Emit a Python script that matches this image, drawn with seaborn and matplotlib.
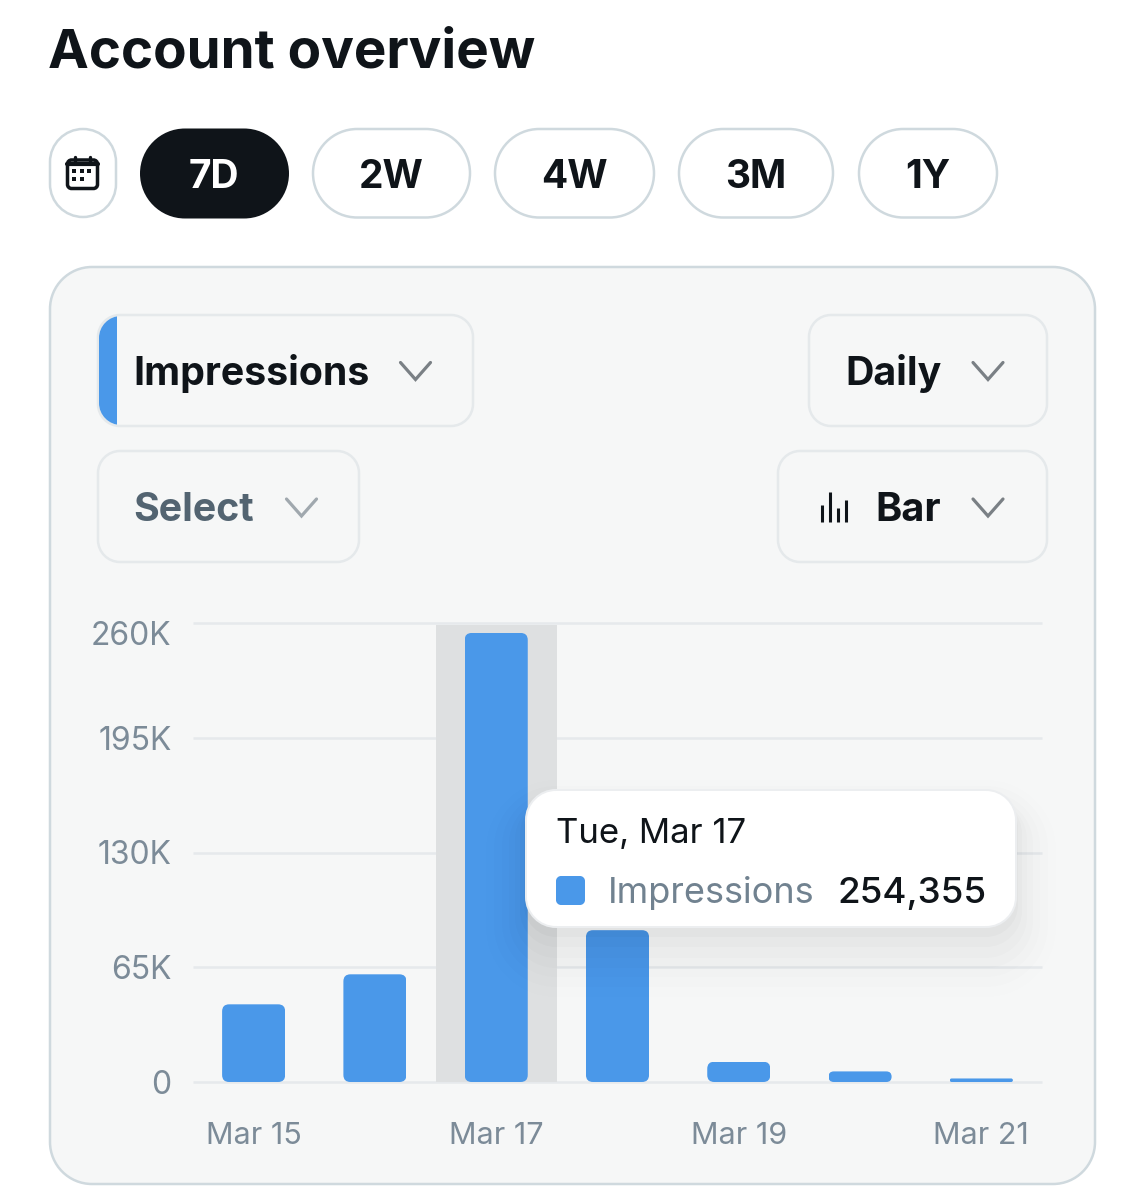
import matplotlib
matplotlib.use("Agg")
import matplotlib.pyplot as plt
import matplotlib.transforms as mtrans
from matplotlib.patches import FancyBboxPatch, PathPatch, Rectangle
from matplotlib.path import Path
import pandas as pd
import seaborn as sns

days = ["Mar 15", "Mar 16", "Mar 17", "Mar 18", "Mar 19", "Mar 20", "Mar 21"]
impressions = [44000, 61000, 254355, 86000, 11500, 6000, 2000]
shown_x_labels = ["Mar 15", "", "Mar 17", "", "Mar 19", "", "Mar 21"]
y_ticks = [0, 65000, 130000, 195000, 260000]
y_tick_labels = ["0", "65K", "130K", "195K", "260K"]
range_buttons = ["7D", "2W", "4W", "3M", "1Y"]

W, H = 1145, 1200
BLUE = "#4a98e9"
INK = "#0f1419"
SLATE = "#536471"
TICK = "#7c8b98"
EDGE = "#cfd9de"
SOFT_EDGE = "#e5e9eb"
PANEL = "#f6f7f7"

sns.set_theme(style="white")
plt.rcParams["font.family"] = ["Inter", "DejaVu Sans"]

fig = plt.figure(figsize=(W / 100, H / 100), dpi=100, facecolor="white")


def overlay(z):
    a = fig.add_axes([0, 0, 1, 1], zorder=z)
    a.set_xlim(0, W)
    a.set_ylim(H, 0)
    a.axis("off")
    a.patch.set_alpha(0)
    return a


def rbox(a, x0, y0, x1, y1, r, fc="none", ec="none", lw=0.0, alpha=None, z=2):
    r = min(r, (x1 - x0) / 2, (y1 - y0) / 2)
    k = r * (1 - 0.5523)
    C4 = Path.CURVE4
    verts = [(x0 + r, y0), (x1 - r, y0),
             (x1 - k, y0), (x1, y0 + k), (x1, y0 + r),
             (x1, y1 - r),
             (x1, y1 - k), (x1 - k, y1), (x1 - r, y1),
             (x0 + r, y1),
             (x0 + k, y1), (x0, y1 - k), (x0, y1 - r),
             (x0, y0 + r),
             (x0, y0 + k), (x0 + k, y0), (x0 + r, y0),
             (x0 + r, y0)]
    codes = [Path.MOVETO, Path.LINETO, C4, C4, C4, Path.LINETO, C4, C4, C4,
             Path.LINETO, C4, C4, C4, Path.LINETO, C4, C4, C4, Path.CLOSEPOLY]
    p = PathPatch(Path(verts, codes), fc=fc, ec=ec, lw=lw * 0.72, alpha=alpha, zorder=z)
    a.add_patch(p)
    return p


def chevron(a, cx, cy, color):
    a.plot([cx - 15, cx, cx + 15], [cy - 8.5, cy + 8.5, cy - 8.5], color=color,
           lw=2.3, solid_capstyle="round", solid_joinstyle="miter", zorder=4)


bg = overlay(0)
bg.text(48.5, 68, "Account overview", fontsize=39.4, fontweight="bold", color=INK, va="baseline")

# calendar pill + icon
rbox(bg, 50, 129, 116, 217, 33, fc="white", ec=EDGE, lw=2.5)
rbox(bg, 67.5, 160, 97.5, 188.5, 4, ec=INK, lw=3.5, z=3)
bg.plot([67, 98], [164, 164], color=INK, lw=3.0, zorder=3)
for xx in (75, 90):
    bg.plot([xx, xx], [157, 161], color=INK, lw=2.4, zorder=3)
for xx, yy in [(82, 171), (89, 171), (74, 171), (74, 179), (82, 179)]:
    bg.add_patch(Rectangle((xx - 1.8, yy - 1.8), 4, 4, fc=INK, ec="none", zorder=3))

# range buttons
btn_spans = [(140, 289), (313, 470), (495, 654), (679, 833), (859, 997)]
for label, (x0, x1) in zip(range_buttons, btn_spans):
    active = label == "7D"
    rbox(bg, x0, 128.5 if active else 129, x1, 218.5 if active else 217.5, 45,
         fc=INK if active else "white", ec="none" if active else EDGE, lw=0 if active else 2.5)
    bg.text((x0 + x1) / 2 - 0.5, 188.5, label, fontsize=28, fontweight="bold",
            color="white" if active else INK, ha="center", va="baseline", zorder=4)

# panel
rbox(bg, 50, 267, 1095, 1184, 42, fc=PANEL, ec=EDGE, lw=2.5, z=1)

# dropdowns
rbox(bg, 98, 315, 473, 426, 22, ec=SOFT_EDGE, lw=2.5)
strip = bg.add_patch(Rectangle((99, 315), 18, 111, fc=BLUE, ec="none", zorder=3))
strip.set_clip_path(rbox(bg, 99, 316, 473, 425, 22))
bg.text(133, 385, "Impressions", fontsize=28.3, fontweight="bold", color=INK, va="baseline", zorder=4)
chevron(bg, 415.5, 371, "#7a8085")

rbox(bg, 809, 315, 1047, 426, 22, ec=SOFT_EDGE, lw=2.5)
bg.text(845, 385, "Daily", fontsize=28.3, fontweight="bold", color=INK, va="baseline", zorder=4)
chevron(bg, 988, 371, "#7a8085")

rbox(bg, 98, 451, 359, 562, 22, ec=SOFT_EDGE, lw=2.5)
bg.text(133, 521, "Select", fontsize=28.3, fontweight="bold", color=SLATE, va="baseline", zorder=4)
chevron(bg, 301.5, 507.5, "#a0a8ae")

rbox(bg, 778, 451, 1047, 562, 22, ec=SOFT_EDGE, lw=2.5)
bg.text(875, 521, "Bar", fontsize=28.6, fontweight="bold", color=INK, va="baseline", zorder=4)
chevron(bg, 988, 507.5, "#7a8085")
for xx, top in [(822, 505), (830, 492), (838, 508), (846, 500)]:
    bg.plot([xx, xx], [top, 522], color=INK, lw=2.2, solid_capstyle="butt", zorder=4)

# chart
left, right, top, bottom = 193, 1042, 623, 1082
ax = fig.add_axes([left / W, 1 - bottom / H, (right - left) / W, (bottom - top) / H], zorder=1)
ax.patch.set_alpha(0)
df = pd.DataFrame({"day": days, "impressions": impressions})
sns.barplot(data=df, x="day", y="impressions", color=BLUE, saturation=1, width=0.52,
            linewidth=0, edgecolor="none", ax=ax, zorder=3)
ax.set_xlim(-0.5, 6.5)
ax.set_ylim(0, 260000)
ax.set_xlabel("")
ax.set_ylabel("")
sns.despine(ax=ax, left=True, bottom=True, top=True, right=True)
ax.set_yticks(y_ticks)
ax.set_yticklabels(y_tick_labels)
ax.set_xticks(range(len(days)))
ax.set_xticklabels(shown_x_labels)
ax.tick_params(axis="y", length=0, pad=15.5, labelsize=23, labelcolor=TICK)
ax.tick_params(axis="x", length=0, pad=28.5, labelsize=22, labelcolor=TICK)
ax.grid(axis="y", color="#e6e9ec", lw=1.8, zorder=0)
ax.grid(axis="x", visible=False)
ax.set_axisbelow(True)
for gl in ax.get_ygridlines():
    gl.set_clip_on(False)
    gl.set_solid_capstyle("butt")
ax.axvspan(1.5, 2.5, ymin=0, ymax=0.996, color="#dee0e1", lw=0, zorder=1)

top_label = ax.get_yticklabels()[-1]
top_label.set_transform(top_label.get_transform()
                        + mtrans.ScaledTranslation(0, -10 / 100, fig.dpi_scale_trans))

# round the bar corners through a clip path in data space
px_x = (right - left) / 7
px_y = (bottom - top) / 260000
aspect = px_x / px_y
for bar in ax.containers[0]:
    h_px = bar.get_height() * px_y
    r = min(7, h_px / 2) / px_x
    clip = FancyBboxPatch((bar.get_x(), 0), bar.get_width(), bar.get_height(),
                          boxstyle=f"round,pad=0,rounding_size={r}",
                          mutation_aspect=aspect, transform=ax.transData)
    bar.set_clip_path(clip)

# tooltip
tip = overlay(3)
for grow, off, al in [(40, 30, .005), (32, 28, .006), (24, 26, .008), (17, 24, .010),
                      (11, 20, .012), (6, 14, .015), (2, 8, .02)]:
    rbox(tip, 526 - grow, 790 - grow + off, 1016 + grow, 927 + grow + off, 30 + grow,
         fc="black", alpha=al, z=1)
rbox(tip, 526, 790, 1016, 927, 30, fc="white", ec="#eceef0", lw=2.0, z=2)
tip.text(556, 843, "Tue, Mar 17", fontsize=25, color=INK, va="baseline", zorder=3)
rbox(tip, 556, 876, 585, 905, 5, fc=BLUE, z=3)
tip.text(608, 903, "Impressions", fontsize=26, color="#718290", va="baseline", zorder=3)
tip.text(838, 903, f"{impressions[2]:,}", fontsize=26.5, fontweight="medium", color=INK, va="baseline", zorder=3)

fig.savefig("out.png", dpi=100, facecolor="white")
